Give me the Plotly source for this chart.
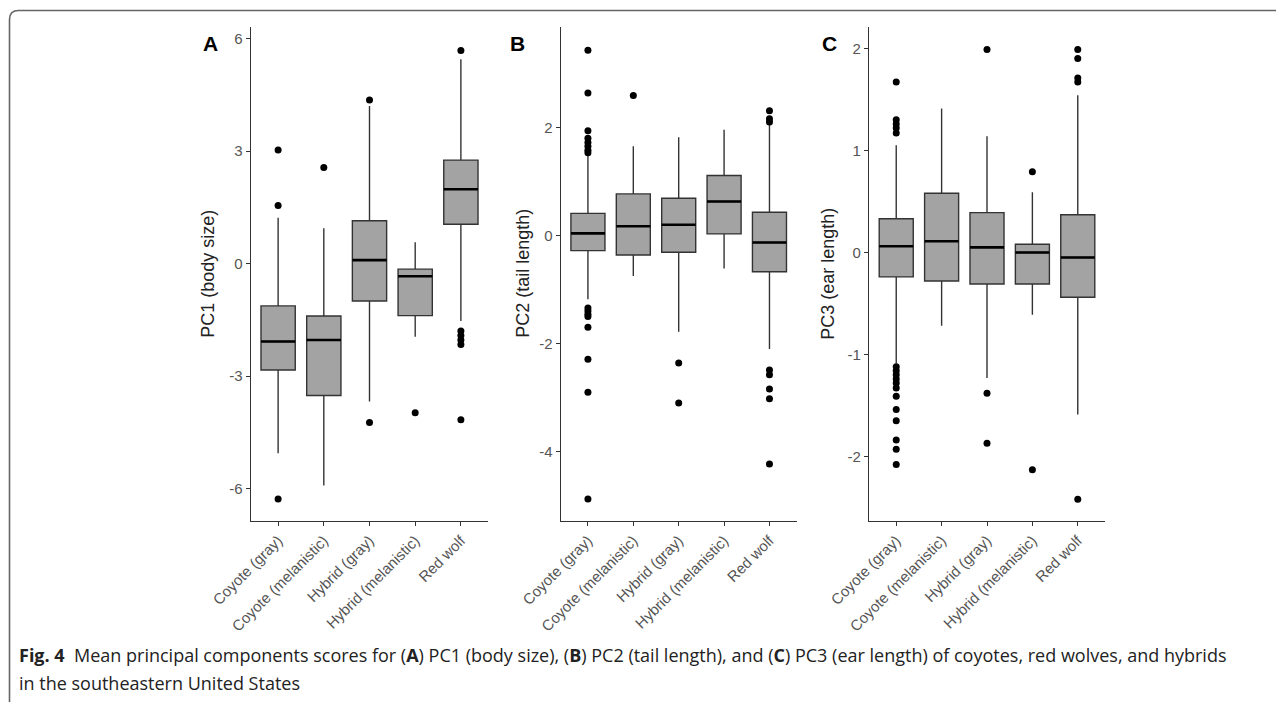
import plotly.graph_objects as go

categories = ["Coyote (gray)", "Coyote (melanistic)", "Hybrid (gray)", "Hybrid (melanistic)", "Red wolf"]

# Panel A: PC1 (body size)
pc1_lower = [-5.06, -5.92, -3.68, -1.95, -1.53]
pc1_q1 = [-2.84, -3.52, -1.00, -1.39, 1.05]
pc1_median = [-2.08, -2.04, 0.09, -0.34, 1.98]
pc1_q3 = [-1.13, -1.40, 1.14, -0.15, 2.76]
pc1_upper = [1.22, 0.94, 4.20, 0.57, 5.45]
pc1_outliers = [
    [3.03, 1.55, -6.28],
    [2.56],
    [4.36, -4.24],
    [-3.98],
    [5.68, -1.80, -1.92, -2.04, -2.16, -4.17],
]

# Panel B: PC2 (tail length)
pc2_lower = [-1.18, -0.75, -1.78, -0.61, -2.10]
pc2_q1 = [-0.28, -0.36, -0.31, 0.03, -0.67]
pc2_median = [0.04, 0.17, 0.20, 0.63, -0.13]
pc2_q3 = [0.41, 0.77, 0.69, 1.11, 0.43]
pc2_upper = [1.50, 1.65, 1.82, 1.96, 2.06]
pc2_outliers = [
    [3.43, 2.64, 1.94, 1.80, 1.72, 1.65, 1.58, 1.53,
     -1.34, -1.40, -1.46, -1.50, -1.70, -2.29, -2.90, -4.88],
    [2.59],
    [-2.36, -3.10],
    [],
    [2.31, 2.16, 2.10, -2.49, -2.58, -2.84, -3.02, -4.23],
]

# Panel C: PC3 (ear length)
pc3_lower = [-1.09, -0.72, -1.23, -0.61, -1.59]
pc3_q1 = [-0.24, -0.28, -0.31, -0.31, -0.44]
pc3_median = [0.06, 0.11, 0.05, 0.00, -0.05]
pc3_q3 = [0.33, 0.58, 0.39, 0.08, 0.37]
pc3_upper = [1.05, 1.41, 1.14, 0.59, 1.54]
pc3_outliers = [
    [1.67, 1.30, 1.26, 1.22, 1.17,
     -1.12, -1.16, -1.20, -1.24, -1.28, -1.33, -1.41, -1.54, -1.65, -1.84, -1.93, -2.08],
    [],
    [1.99, -1.38, -1.87],
    [0.79, -2.13],
    [1.99, 1.90, 1.71, 1.67, -2.42],
]

pc1_ticks = [-6, -3, 0, 3, 6]
pc1_ticklabels = ["-6", "-3", "0", "3", "6"]
pc2_ticks = [-4, -2, 0, 2]
pc2_ticklabels = ["-4", "-2", "0", "2"]
pc3_ticks = [-2, -1, 0, 1, 2]
pc3_ticklabels = ["-2", "-1", "0", "1", "2"]

panel_titles = ["PC1 (body size)", "PC2 (tail length)", "PC3 (ear length)"]
panel_letters = ["A", "B", "C"]

W, H = 1284, 702
OFF = 8.0  # page body margin compensation
BOX_W = 0.75


def fx(px):
    return (px - OFF) / W


def fy(py):
    return 1 - (py - OFF) / H


panels = [
    dict(lower=pc1_lower, q1=pc1_q1, med=pc1_median, q3=pc1_q3, upper=pc1_upper, out=pc1_outliers,
         ticks=pc1_ticks, labels=pc1_ticklabels, yr=[-6.86, 6.31], px=(250.7, 488.3)),
    dict(lower=pc2_lower, q1=pc2_q1, med=pc2_median, q3=pc2_q3, upper=pc2_upper, out=pc2_outliers,
         ticks=pc2_ticks, labels=pc2_ticklabels, yr=[-5.28, 3.86], px=(560.7, 796.7)),
    dict(lower=pc3_lower, q1=pc3_q1, med=pc3_median, q3=pc3_q3, upper=pc3_upper, out=pc3_outliers,
         ticks=pc3_ticks, labels=pc3_ticklabels, yr=[-2.63, 2.21], px=(869.0, 1105.0)),
]

Y_TOP, Y_BOT = 27.0, 520.7
ydom = [fy(Y_BOT), fy(Y_TOP)]

fig = go.Figure()
shapes = []
annotations = []
title_x = [208, 523, 828]
letter_x = [210, 517, 829]

for k, p in enumerate(panels):
    xa = "x" if k == 0 else f"x{k+1}"
    ya = "y" if k == 0 else f"y{k+1}"
    fig.add_trace(go.Box(
        x=categories, q1=p["q1"], median=p["med"], q3=p["q3"],
        lowerfence=p["lower"], upperfence=p["upper"],
        xaxis=xa, yaxis=ya, width=BOX_W, whiskerwidth=0,
        fillcolor="#a3a3a3", line=dict(color="#333333", width=1.4),
        boxpoints=False, showlegend=False, hoverinfo="skip",
    ))
    ox, oy = [], []
    for i, vals in enumerate(p["out"]):
        for v in vals:
            ox.append(categories[i])
            oy.append(v)
    fig.add_trace(go.Scatter(
        x=ox, y=oy, mode="markers", xaxis=xa, yaxis=ya,
        marker=dict(color="black", size=7), showlegend=False, hoverinfo="skip",
    ))
    for i, m in enumerate(p["med"]):
        shapes.append(dict(type="line", xref=xa, yref=ya, x0=i - BOX_W / 2, x1=i + BOX_W / 2,
                           y0=m, y1=m, line=dict(color="black", width=2.6)))
    xdom = [fx(p["px"][0]), fx(p["px"][1])]
    axis_common = dict(showline=True, linecolor="#333333", linewidth=1.4, ticks="outside",
                       ticklen=4, tickwidth=1.2, tickcolor="#333333", showgrid=False,
                       zeroline=False, automargin=False,
                       tickfont=dict(family="Liberation Sans, Arial", size=15, color="#555555"))
    fig.layout[("xaxis" if k == 0 else f"xaxis{k+1}")] = dict(
        domain=xdom, anchor=ya, range=[-0.6, 4.6], type="category",
        tickangle=-45, **axis_common)
    fig.layout[("yaxis" if k == 0 else f"yaxis{k+1}")] = dict(
        domain=ydom, anchor=xa, range=p["yr"], tickvals=p["ticks"], ticktext=p["labels"],
        **axis_common)
    annotations.append(dict(text=panel_titles[k], xref="paper", yref="paper",
                            x=fx(title_x[k]), y=fy((Y_TOP + Y_BOT) / 2), textangle=-90,
                            showarrow=False, xanchor="center", yanchor="middle",
                            font=dict(family="Liberation Sans, Arial", size=18, color="#222222")))
    annotations.append(dict(text=f"<b>{panel_letters[k]}</b>", xref="paper", yref="paper",
                            x=fx(letter_x[k]), y=fy(43), showarrow=False,
                            xanchor="center", yanchor="middle",
                            font=dict(family="Liberation Sans, Arial", size=21, color="black")))

cap_font = dict(family="Open Sans, sans-serif", size=18, color="#222222")
annotations.append(dict(
    text="<b>Fig. 4</b>  Mean principal components scores for (<b>A</b>) PC1 (body size), (<b>B</b>) PC2 (tail length), and (<b>C</b>) PC3 (ear length) of coyotes, red wolves, and hybrids",
    xref="paper", yref="paper", x=fx(17), y=fy(655), xanchor="left", yanchor="middle",
    showarrow=False, font=cap_font))
annotations.append(dict(
    text="in the southeastern United States",
    xref="paper", yref="paper", x=fx(17), y=fy(683), xanchor="left", yanchor="middle",
    showarrow=False, font=cap_font))

# rounded frame (left and top edges)
xl, yt, r = 9.5, 10.5, 9
path = (f"M {fx(xl)},0 L {fx(xl)},{fy(yt + r)} "
        f"Q {fx(xl)},{fy(yt)} {fx(xl + r)},{fy(yt)} L 1,{fy(yt)}")
shapes.append(dict(type="path", xref="paper", yref="paper", path=path,
                   line=dict(color="#666666", width=1.6)))

fig.update_layout(width=W, height=H, margin=dict(l=0, r=0, t=0, b=0, autoexpand=False),
                  plot_bgcolor="white", paper_bgcolor="white",
                  shapes=shapes, annotations=annotations)

fig.write_html("out.html")
